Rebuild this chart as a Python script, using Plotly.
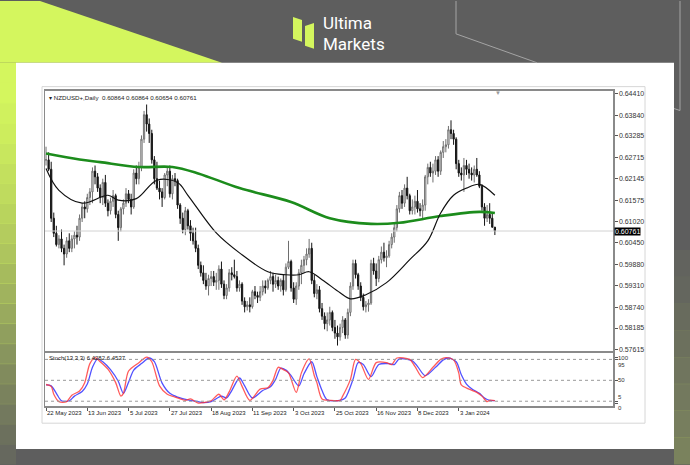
import plotly.graph_objects as go

# ---------------- data ----------------
symbol = "NZDUSD+,Daily"
date_labels = ["22 May 2023", "13 Jun 2023", "5 Jul 2023", "27 Jul 2023", "18 Aug 2023",
               "11 Sep 2023", "3 Oct 2023", "25 Oct 2023", "16 Nov 2023", "8 Dec 2023", "3 Jan 2024"]
date_idx = [0, 16, 32, 48, 64, 80, 96, 112, 128, 144, 160]

opens = [0.6265,0.6265,0.6240,0.6110,0.6070,0.6040,0.6055,0.6030,0.6015,0.6050,
         0.6030,0.6055,0.6065,0.6060,0.6110,0.6140,0.6135,0.6165,0.6180,0.6235,
         0.6220,0.6190,0.6165,0.6205,0.6150,0.6130,0.6155,0.6170,0.6120,0.6085,
         0.6135,0.6150,0.6175,0.6160,0.6140,0.6230,0.6215,0.6245,0.6320,0.6385,
         0.6360,0.6335,0.6265,0.6215,0.6190,0.6180,0.6165,0.6225,0.6235,0.6175,
         0.6215,0.6210,0.6145,0.6110,0.6080,0.6130,0.6090,0.6070,0.6050,0.6030,
         0.5985,0.5965,0.5945,0.5930,0.5950,0.5955,0.5940,0.5945,0.5975,0.5935,
         0.5905,0.5925,0.5965,0.5960,0.5955,0.5925,0.5935,0.5890,0.5875,0.5880,
         0.5875,0.5915,0.5905,0.5900,0.5915,0.5930,0.5925,0.5945,0.5955,0.5935,
         0.5945,0.5930,0.5945,0.5920,0.5980,0.5995,0.5925,0.5895,0.5930,0.5965,
         0.5985,0.6000,0.6015,0.6030,0.5945,0.5910,0.5920,0.5870,0.5850,0.5830,
         0.5840,0.5860,0.5820,0.5805,0.5795,0.5820,0.5840,0.5800,0.5860,0.5930,
         0.5990,0.5960,0.5930,0.5900,0.5875,0.5880,0.5885,0.5990,0.5970,0.5950,
         0.6000,0.6020,0.6005,0.6010,0.6040,0.6060,0.6085,0.6135,0.6170,0.6150,
         0.6190,0.6170,0.6130,0.6140,0.6155,0.6135,0.6130,0.6145,0.6220,0.6245,
         0.6230,0.6235,0.6265,0.6235,0.6285,0.6300,0.6305,0.6345,0.6335,0.6320,
         0.6255,0.6230,0.6225,0.6250,0.6240,0.6230,0.6225,0.6240,0.6225,0.6195,
         0.6140,0.6110,0.6120,0.6110,0.60864]
highs = [0.6300,0.6285,0.6260,0.6125,0.6090,0.6065,0.6080,0.6040,0.6060,0.6070,
         0.6065,0.6075,0.6090,0.6120,0.6150,0.6155,0.6175,0.6190,0.6245,0.6250,
         0.6230,0.6200,0.6215,0.6225,0.6160,0.6165,0.6185,0.6175,0.6130,0.6140,
         0.6160,0.6190,0.6185,0.6175,0.6240,0.6250,0.6260,0.6330,0.6395,0.6412,
         0.6375,0.6345,0.6275,0.6260,0.6210,0.6190,0.6230,0.6245,0.6250,0.6225,
         0.6230,0.6215,0.6150,0.6125,0.6140,0.6135,0.6105,0.6085,0.6085,0.6040,
         0.5995,0.5985,0.5965,0.5960,0.5970,0.5970,0.5965,0.5985,0.5995,0.5945,
         0.5935,0.5975,0.5980,0.6000,0.5970,0.5945,0.5940,0.5900,0.5890,0.5900,
         0.5920,0.5930,0.5915,0.5930,0.5945,0.5945,0.5950,0.5970,0.5965,0.5960,
         0.5955,0.5950,0.5960,0.5990,0.6050,0.6000,0.5940,0.5940,0.5975,0.6000,
         0.6010,0.6030,0.6055,0.6045,0.5960,0.5935,0.5930,0.5885,0.5860,0.5860,
         0.5875,0.5865,0.5840,0.5825,0.5830,0.5850,0.5845,0.5870,0.5940,0.6000,
         0.6000,0.5965,0.5940,0.5910,0.5890,0.5895,0.6000,0.6005,0.5990,0.6010,
         0.6035,0.6045,0.6025,0.6050,0.6070,0.6095,0.6145,0.6180,0.6185,0.6200,
         0.6220,0.6175,0.6160,0.6170,0.6185,0.6150,0.6160,0.6225,0.6255,0.6260,
         0.6255,0.6275,0.6275,0.6290,0.6315,0.6320,0.6355,0.6370,0.6345,0.6325,
         0.6265,0.6245,0.6270,0.6265,0.6255,0.6245,0.6250,0.6270,0.6235,0.6200,
         0.6150,0.6145,0.6150,0.6125,0.60864]
lows = [0.6250,0.6235,0.6100,0.6060,0.6035,0.6030,0.6020,0.5985,0.6005,0.6020,
        0.6020,0.6030,0.6040,0.6050,0.6100,0.6110,0.6125,0.6145,0.6150,0.6200,
        0.6180,0.6150,0.6145,0.6140,0.6115,0.6120,0.6140,0.6110,0.6050,0.6075,
        0.6120,0.6140,0.6150,0.6120,0.6135,0.6200,0.6200,0.6235,0.6310,0.6340,
        0.6310,0.6255,0.6200,0.6185,0.6160,0.6140,0.6160,0.6195,0.6165,0.6160,
        0.6195,0.6135,0.6095,0.6070,0.6065,0.6080,0.6050,0.6040,0.6020,0.5975,
        0.5955,0.5935,0.5920,0.5905,0.5930,0.5930,0.5920,0.5920,0.5925,0.5895,
        0.5895,0.5915,0.5945,0.5950,0.5915,0.5915,0.5880,0.5860,0.5865,0.5860,
        0.5870,0.5895,0.5885,0.5890,0.5905,0.5910,0.5920,0.5935,0.5915,0.5925,
        0.5920,0.5915,0.5905,0.5915,0.5975,0.5915,0.5885,0.5880,0.5920,0.5935,
        0.5965,0.5985,0.6005,0.5935,0.5900,0.5895,0.5860,0.5840,0.5815,0.5810,
        0.5825,0.5810,0.5790,0.5772,0.5785,0.5805,0.5790,0.5790,0.5850,0.5920,
        0.5950,0.5920,0.5890,0.5865,0.5860,0.5862,0.5880,0.5960,0.5930,0.5940,
        0.5990,0.5995,0.5980,0.6005,0.6030,0.6045,0.6075,0.6125,0.6135,0.6140,
        0.6160,0.6120,0.6120,0.6120,0.6125,0.6115,0.6110,0.6130,0.6200,0.6220,
        0.6205,0.6225,0.6220,0.6225,0.6270,0.6285,0.6295,0.6320,0.6305,0.6240,
        0.6220,0.6210,0.6180,0.6225,0.6215,0.6210,0.6205,0.6220,0.6190,0.6130,
        0.6090,0.6100,0.6095,0.6085,0.60654]
closes = [0.6265,0.6240,0.6110,0.6070,0.6040,0.6055,0.6030,0.6015,0.6050,0.6030,
          0.6055,0.6065,0.6060,0.6110,0.6140,0.6135,0.6165,0.6180,0.6235,0.6220,
          0.6190,0.6165,0.6205,0.6150,0.6130,0.6155,0.6170,0.6120,0.6085,0.6135,
          0.6150,0.6175,0.6160,0.6140,0.6230,0.6215,0.6245,0.6320,0.6385,0.6360,
          0.6335,0.6265,0.6215,0.6190,0.6180,0.6165,0.6225,0.6235,0.6175,0.6215,
          0.6210,0.6145,0.6110,0.6080,0.6130,0.6090,0.6070,0.6050,0.6030,0.5985,
          0.5965,0.5945,0.5930,0.5950,0.5955,0.5940,0.5945,0.5975,0.5935,0.5905,
          0.5925,0.5965,0.5960,0.5955,0.5925,0.5935,0.5890,0.5875,0.5880,0.5875,
          0.5915,0.5905,0.5900,0.5915,0.5930,0.5925,0.5945,0.5955,0.5935,0.5945,
          0.5930,0.5945,0.5920,0.5980,0.5995,0.5925,0.5895,0.5930,0.5965,0.5985,
          0.6000,0.6015,0.6030,0.5945,0.5910,0.5920,0.5870,0.5850,0.5830,0.5840,
          0.5860,0.5820,0.5805,0.5795,0.5820,0.5840,0.5800,0.5860,0.5930,0.5990,
          0.5960,0.5930,0.5900,0.5875,0.5880,0.5885,0.5990,0.5970,0.5950,0.6000,
          0.6020,0.6005,0.6010,0.6040,0.6060,0.6085,0.6135,0.6170,0.6150,0.6190,
          0.6170,0.6130,0.6140,0.6155,0.6135,0.6130,0.6145,0.6220,0.6245,0.6230,
          0.6235,0.6265,0.6235,0.6285,0.6300,0.6305,0.6345,0.6335,0.6320,0.6255,
          0.6230,0.6225,0.6250,0.6240,0.6230,0.6225,0.6240,0.6225,0.6195,0.6140,
          0.6110,0.6120,0.6110,0.60864,0.60761]

# long moving average (green) read at selected bars
ma_slow_idx = [0, 13, 21, 36, 49, 59, 75, 95, 110, 126, 137, 153, 168, 174]
ma_slow = [0.6282, 0.6266, 0.6259, 0.6246, 0.6246, 0.6229, 0.6190, 0.6153, 0.6110,
           0.6095, 0.6098, 0.6116, 0.6127, 0.6124]
# short moving average (black) read at selected bars
ma_fast_idx = [0, 5, 14, 24, 28, 35, 43, 51, 55, 66, 75, 86, 93, 98, 102, 107, 114, 118,
               124, 132, 141, 148, 153, 158, 163, 168, 174]
ma_fast = [0.6242, 0.6184, 0.6150, 0.6171, 0.6158, 0.6162, 0.6211, 0.6205, 0.6171, 0.6071,
           0.6018, 0.5968, 0.5960, 0.5960, 0.5968, 0.5947, 0.5912, 0.5896, 0.5907, 0.5939,
           0.6000, 0.6050, 0.6124, 0.6171, 0.6190, 0.6200, 0.6171]

# stochastic (13,3,3)
k_idx = [0,2,3,5,8,10,13,15,17,19,21,24,27,29,30,32,36,39,41,44,47,50,54,56,59,62,64,67,69,71,
         74,76,79,83,86,88,90,92,94,97,99,102,104,105,107,110,114,115,118,120,122,125,128,132,
         134,136,141,143,146,150,153,155,158,160,161,164,167,169,171,172,174]
k_val = [41,37,20,4,4,18,27,45,86,99,90,74,45,16,22,70,88,100,90,38,20,14,7,10,1,3,6,20,8,25,
         59,37,7,31,34,50,78,73,66,24,66,96,60,45,10,7,7,16,52,95,86,52,88,88,
         84,98,95,80,56,78,95,99,94,66,40,31,24,16,4,7,6.43]
d_idx = [0,2,4,6,9,11,14,16,18,20,22,25,28,30,32,34,37,40,42,45,48,51,55,58,61,64,68,70,72,75,
         77,80,84,87,89,91,93,95,98,100,103,105,107,109,114,116,119,121,123,126,129,133,135,137,
         142,144,147,151,154,156,159,161,163,165,168,170,172,174]
d_val = [40,38,22,6,6,16,26,42,78,96,90,73,48,22,46,72,86,98,90,44,22,14,8,5,2,4,16,12,28,55,
         38,12,28,36,52,76,72,60,38,64,90,58,28,8,7,12,52,88,84,58,84,86,84,96,
         92,80,60,78,94,98,90,62,42,32,22,12,7,6.45]
stoch_params = "13,3,3"
stoch_k_last = 6.4282
stoch_d_last = 6.4537
stoch_levels = [95, 50, 5]
stoch_ticks = [0, 5, 50, 95, 100]

price_ticks = [0.64410, 0.63840, 0.63285, 0.62715, 0.62145, 0.61575, 0.61020,
               0.60450, 0.59880, 0.59310, 0.58740, 0.58185, 0.57615]

# ---------------- figure ----------------
W, H = 690, 465
def fx(p):
    return p / W
def fy(p):
    return 1 - p / H

bars = list(range(len(closes)))
FONT = "Liberation Sans, Arial, sans-serif"
XR = [-0.4, 219.8]

fig = go.Figure()
fig.add_trace(go.Candlestick(
    x=bars, open=opens, high=highs, low=lows, close=closes, xaxis="x", yaxis="y",
    increasing=dict(line=dict(color="#6e6e6e", width=1), fillcolor="#ffffff"),
    decreasing=dict(line=dict(color="#151515", width=1), fillcolor="#151515"),
    whiskerwidth=0, showlegend=False, hoverinfo="skip"))
fig.add_trace(go.Scatter(x=ma_slow_idx, y=ma_slow, mode="lines", xaxis="x", yaxis="y",
                         line=dict(color="#1c8c1c", width=2.6, shape="spline", smoothing=1.0),
                         showlegend=False, hoverinfo="skip"))
fig.add_trace(go.Scatter(x=ma_fast_idx, y=ma_fast, mode="lines", xaxis="x", yaxis="y",
                         line=dict(color="#111111", width=1.2, shape="spline", smoothing=1.0),
                         showlegend=False, hoverinfo="skip"))
fig.add_trace(go.Scatter(x=d_idx, y=d_val, mode="lines", xaxis="x2", yaxis="y2",
                         line=dict(color="rgba(50,50,255,0.85)", width=1.3, shape="spline", smoothing=0.8),
                         showlegend=False, hoverinfo="skip"))
fig.add_trace(go.Scatter(x=k_idx, y=k_val, mode="lines", xaxis="x2", yaxis="y2",
                         line=dict(color="rgba(255,50,50,0.8)", width=1.3, shape="spline", smoothing=0.8),
                         showlegend=False, hoverinfo="skip"))

shapes = []
LIME = "#d4f65e"
# lime corner
shapes.append(dict(type="path", xref="paper", yref="paper", layer="below", line_width=0, fillcolor=LIME,
                   path=f"M 0 {fy(0)} L {fx(40)} {fy(0)} L {fx(222)} {fy(62)} L 0 {fy(62)} Z"))
# left strip gradient (lime fading into grey)
grad = [1.0, 1.0, 0.97, 0.94, 0.9, 0.86, 0.82, 0.78, 0.73, 0.68, 0.62, 0.56, 0.5, 0.43,
        0.36, 0.3, 0.24, 0.18, 0.12, 0.07]
step = (465 - 62) / len(grad)
for n, op in enumerate(grad):
    a = 62 + n * step
    shapes.append(dict(type="rect", xref="paper", yref="paper", layer="below", line_width=0,
                       fillcolor=LIME, opacity=op, x0=0, x1=fx(16), y0=fy(a + step + 0.5), y1=fy(a)))
# right strip greenish tint
rgrad = [0.03, 0.06, 0.09, 0.12, 0.15, 0.18, 0.21, 0.24]
rstep = (465 - 250) / len(rgrad)
for n, op in enumerate(rgrad):
    a = 250 + n * rstep
    shapes.append(dict(type="rect", xref="paper", yref="paper", layer="below", line_width=0,
                       fillcolor=LIME, opacity=op, x0=fx(674), x1=1, y0=fy(a + rstep + 0.5), y1=fy(a)))
# white panel
shapes.append(dict(type="rect", xref="paper", yref="paper", layer="below", line_width=0,
                   fillcolor="#ffffff", x0=fx(16), x1=fx(674), y0=fy(450), y1=fy(62)))
# MT4 window frame
shapes.append(dict(type="rect", xref="paper", yref="paper", layer="below",
                   line=dict(color="#d6d6d6", width=1), fillcolor="rgba(0,0,0,0)",
                   x0=fx(42), x1=fx(645), y0=fy(424), y1=fy(86)))
# decorative lines top right
shapes.append(dict(type="path", xref="paper", yref="paper", layer="below",
                   line=dict(color="#a4a4a4", width=1),
                   path=f"M {fx(456)} {fy(0)} L {fx(456)} {fy(33)} L {fx(537)} {fy(62)}"))
shapes.append(dict(type="path", xref="paper", yref="paper", layer="below",
                   line=dict(color="#a4a4a4", width=1),
                   path=f"M {fx(680)} {fy(0)} L {fx(680)} {fy(110)} L {fx(674)} {fy(108)}"))
# logo icon
shapes.append(dict(type="path", xref="paper", yref="paper", line_width=0, fillcolor=LIME,
                   path=f"M {fx(293)} {fy(16)} L {fx(302)} {fy(19)} L {fx(302)} {fy(41)} L {fx(293)} {fy(38)} Z"))
shapes.append(dict(type="path", xref="paper", yref="paper", line_width=0, fillcolor=LIME,
                   path=f"M {fx(305)} {fy(25)} L {fx(314)} {fy(22)} L {fx(314)} {fy(48)} L {fx(305)} {fy(45)} Z"))
# current price line
shapes.append(dict(type="line", xref="x domain", yref="y", x0=0, x1=1, y0=closes[-1], y1=closes[-1],
                   line=dict(color="#d2d2d2", width=1)))
# stochastic levels
for lv in stoch_levels:
    shapes.append(dict(type="line", xref="x2 domain", yref="y2", x0=0, x1=1, y0=lv, y1=lv,
                       line=dict(color="#9a9a9a", width=1, dash="dot")))

ann = []
ann.append(dict(xref="paper", yref="paper", x=fx(47), y=fy(97), xanchor="left", yanchor="middle",
                showarrow=False, font=dict(family=FONT, size=6.2, color="#222"),
                text=f"▾ {symbol}  {opens[-1]:.5f} {highs[-1]:.5f} {lows[-1]:.5f} {closes[-1]:.5f}"))
ann.append(dict(xref="paper", yref="paper", x=fx(47), y=fy(359), xanchor="left", yanchor="middle",
                showarrow=False, font=dict(family=FONT, size=6, color="#222"),
                text=f"Stoch({stoch_params}) {stoch_k_last:.4f} {stoch_d_last:.4f}"))
for i, lab in zip(date_idx, date_labels):
    ann.append(dict(xref="x2", yref="paper", x=i, y=fy(414), xanchor="left", yanchor="middle",
                    xshift=-1, showarrow=False, font=dict(family=FONT, size=6, color="#222"), text=lab))
# stochastic scale labels (stacked so that neighbours do not collide)
stoch_anchor = {0: ("top", 0), 5: ("bottom", 0), 50: ("middle", 0), 95: ("top", -1.5), 100: ("top", 3.5)}
for v in stoch_ticks:
    anc, sh = stoch_anchor[v]
    ann.append(dict(xref="paper", yref="y2", x=fx(617), y=v, xanchor="left", yanchor=anc, yshift=sh,
                    showarrow=False, borderpad=0, font=dict(family=FONT, size=6, color="#333"),
                    text=str(v)))
ann.append(dict(xref="paper", yref="y", x=fx(614), y=closes[-1], xanchor="left", yanchor="middle",
                showarrow=False, bgcolor="#000000", borderpad=0,
                font=dict(family=FONT, size=7, color="#ffffff"), text=f"{closes[-1]:.5f}"))
ann.append(dict(xref="paper", yref="paper", x=fx(498), y=fy(92), xanchor="center", yanchor="middle",
                showarrow=False, font=dict(family=FONT, size=6, color="#999"), text="▼"))
ann.append(dict(xref="paper", yref="paper", x=fx(322), y=fy(22.5), xanchor="left", yanchor="middle",
                showarrow=False, font=dict(family="Roboto, sans-serif", size=17, color="#ffffff"),
                text="Ultima", borderpad=0))
ann.append(dict(xref="paper", yref="paper", x=fx(322), y=fy(43), xanchor="left", yanchor="middle",
                showarrow=False, font=dict(family="Roboto, sans-serif", size=17, color="#ffffff"),
                text="Markets", borderpad=0))

axis_common = dict(showgrid=False, zeroline=False, showline=True, mirror=True,
                   linecolor="#8a8a8a", linewidth=1.5)
fig.update_layout(
    width=W, height=H, autosize=False, margin=dict(l=0, r=0, t=0, b=0),
    paper_bgcolor="#5e5e5e", plot_bgcolor="#ffffff", showlegend=False,
    xaxis=dict(domain=[fx(45), fx(613)], range=XR, anchor="y", showticklabels=False, ticks="",
               rangeslider=dict(visible=False), **axis_common),
    yaxis=dict(domain=[fy(352), fy(90)], range=[0.57562, 0.64489], anchor="x", side="right",
               tickvals=price_ticks, ticktext=[f"{v:.5f}" for v in price_ticks],
               ticks="outside", ticklen=3, tickcolor="#555", tickwidth=1,
               tickfont=dict(family=FONT, size=7, color="#333"), **axis_common),
    xaxis2=dict(domain=[fx(45), fx(613)], range=XR, anchor="y2", tickvals=date_idx,
                showticklabels=False, ticks="outside", ticklen=3, tickcolor="#555", **axis_common),
    yaxis2=dict(domain=[fy(407), fy(353)], range=[-5.8, 109.9], anchor="x2", side="right",
                tickvals=stoch_ticks, showticklabels=False,
                ticks="outside", ticklen=3, tickcolor="#555", **axis_common),
    shapes=shapes, annotations=ann,
)

fig.write_html("out.html", config={"displayModeBar": False, "staticPlot": True},
               post_script="document.body.style.margin='0';document.body.style.overflow='hidden';"
                           "document.body.style.background='#5e5e5e';")
